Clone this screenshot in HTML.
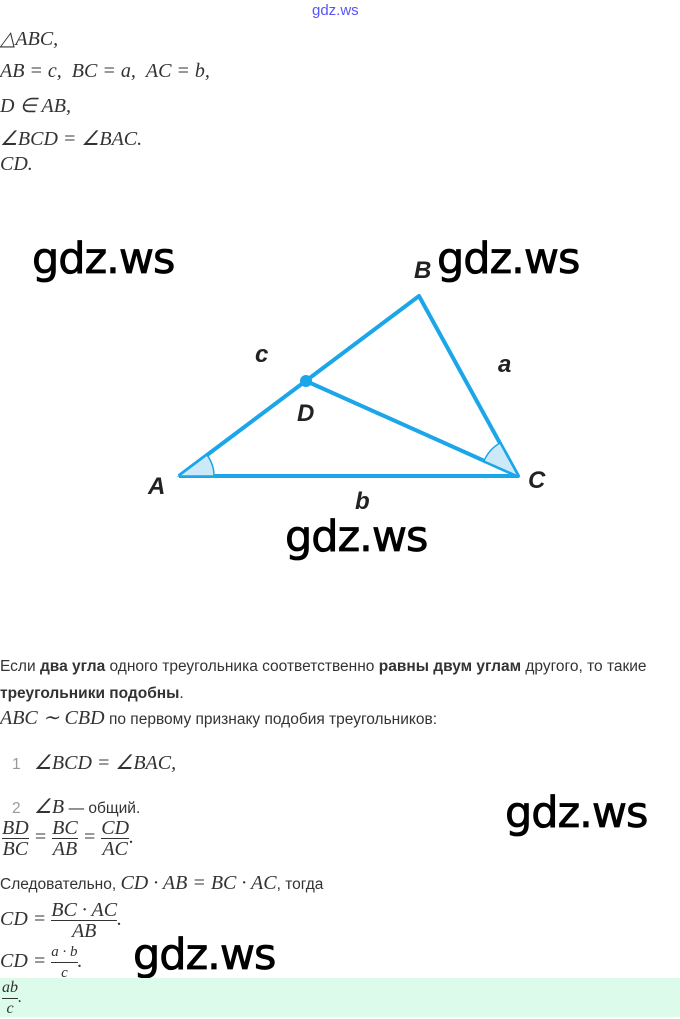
<!DOCTYPE html>
<html><head><meta charset="utf-8"><style>
body{margin:0;width:680px;height:1017px;background:#fff;position:relative;overflow:hidden;font-family:"Liberation Sans",sans-serif;color:#222}
.a{position:absolute;white-space:nowrap}
.m{font-family:"Liberation Serif",serif;font-style:italic;font-size:20px;color:#333}
.t{font-size:15.5px;color:#333}
.w{font-family:"DejaVu Sans",sans-serif;font-size:43px;color:#000;letter-spacing:-1px;-webkit-text-stroke:0.8px #000}
.fr{display:inline-block;vertical-align:middle;text-align:center}
.fr span{display:block;line-height:20px}
.fr .n{border-bottom:1px solid #333}
</style></head><body>
<div class="a" style="left:312px;top:2px;font-size:15px;color:#55f">gdz.ws</div>
<div class="a m" style="left:0;top:26px">△ABC,</div>
<div class="a m" style="left:0;top:60px">AB = c, &nbsp;BC = a, &nbsp;AC = b,</div>
<div class="a m" style="left:0;top:93px">D ∈ AB,</div>
<div class="a m" style="left:0;top:126px">∠BCD = ∠BAC.</div>
<div class="a m" style="left:0;top:153px">CD.</div>
<svg class="a" style="left:0;top:0" width="680" height="640">
<polyline points="179,476 419,296 518,476 179,476" fill="none" stroke="#1aa6e8" stroke-width="4" stroke-linejoin="round"/>
<line x1="306" y1="381" x2="518" y2="476" stroke="#1aa6e8" stroke-width="4"/>
<circle cx="306" cy="381" r="6" fill="#1aa6e8"/>
<path d="M179,476 L207,455 A35,35 0 0 1 214,476Z" fill="#cce9f7" stroke="#1aa6e8" stroke-width="1.5"/>
<path d="M518,476 L484,461 A37,37 0 0 1 500,443Z" fill="#cce9f7" stroke="#1aa6e8" stroke-width="1.5"/>
<g font-family="Liberation Sans" font-style="italic" font-weight="bold" font-size="24" fill="#222">
<text x="148" y="494">A</text><text x="414" y="278">B</text><text x="528" y="488">C</text>
<text x="297" y="421">D</text><text x="255" y="362">c</text><text x="498" y="372">a</text><text x="355" y="509">b</text></g>
</svg>
<div class="a w" style="left:32px;top:234px">gdz.ws</div>
<div class="a w" style="left:437px;top:234px">gdz.ws</div>
<div class="a w" style="left:285px;top:512px">gdz.ws</div>
<div class="a w" style="left:505px;top:788px">gdz.ws</div>
<div class="a w" style="left:133px;top:930px">gdz.ws</div>
<div class="a t" style="left:0;top:658px">Если <b>два угла</b> одного треугольника соответственно <b>равны двум углам</b> другого, то такие</div>
<div class="a t" style="left:0;top:685px"><b>треугольники подобны</b>.</div>
<div class="a" style="left:0;top:705px"><span class="m">ABC ∼ CBD</span> <span class="t">по первому признаку подобия треугольников:</span></div>
<div class="a" style="left:12px;top:750px"><span class="t" style="color:#999">1</span>&nbsp;&nbsp; <span class="m">∠BCD = ∠BAC,</span></div>
<div class="a" style="left:12px;top:794px"><span class="t" style="color:#999">2</span>&nbsp;&nbsp; <span class="m">∠B</span> <span class="t">— общий.</span></div>
<div class="a m" style="left:2px;top:818px"><span class="fr"><span class="n">BD</span><span>BC</span></span> = <span class="fr"><span class="n">BC</span><span>AB</span></span> = <span class="fr"><span class="n">CD</span><span>AC</span></span>.</div>
<div class="a" style="left:0;top:872px"><span class="t">Следовательно, </span><span class="m">CD · AB = BC · AC</span><span class="t">, тогда</span></div>
<div class="a m" style="left:0;top:900px">CD = <span class="fr"><span class="n">BC · AC</span><span>AB</span></span>.</div>
<div class="a m" style="left:0;top:942px">CD = <span class="fr"><span class="n" style="font-size:15px">a · b</span><span style="font-size:15px">c</span></span>.</div>
<div class="a" style="left:0;top:978px;width:680px;height:39px;background:#dcfbea"></div>
<div class="a m" style="left:2px;top:978px;font-size:16px"><span class="fr"><span class="n">ab</span><span>c</span></span>.</div>
</body></html>
